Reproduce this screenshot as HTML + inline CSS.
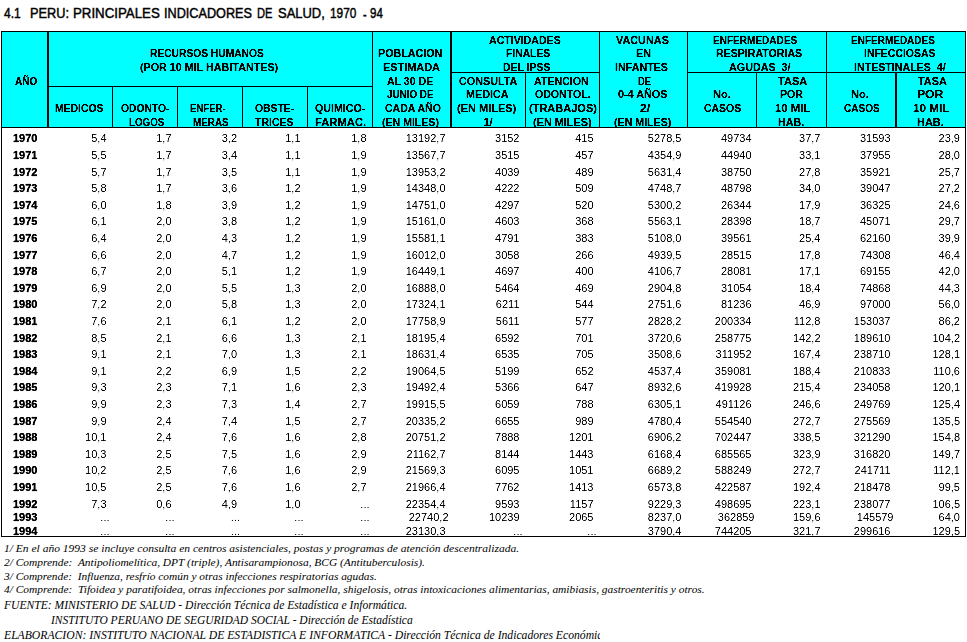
<!DOCTYPE html><html><head><meta charset="utf-8"><style>
html,body{margin:0;padding:0;background:#fff;width:967px;height:642px;overflow:hidden;position:relative}
div{position:absolute;white-space:pre}
.t{line-height:11px;font-family:"Liberation Sans",sans-serif;font-size:11px;color:#000;-webkit-text-stroke:0px #000}
.b{font-weight:bold;-webkit-text-stroke:0.3px #000}
.h{font-family:"Liberation Sans",sans-serif;font-weight:bold;font-size:11px;line-height:11px;transform-origin:0 0;-webkit-text-stroke:0.2px #000}
.r{text-align:right;width:80px}
.l{background:#000}
.f{font-family:"Liberation Serif",serif;font-style:italic;color:#000;transform-origin:0 0}
</style></head><body>
<div class="h" style="font-size:14px;line-height:14px;-webkit-text-stroke:0.45px #000;font-weight:normal;left:3.90px;top:6px;transform:scaleX(0.8579)">4.1</div>
<div class="h" style="font-size:14px;line-height:14px;-webkit-text-stroke:0.45px #000;font-weight:normal;left:30.09px;top:6px;transform:scaleX(0.9098)">PERU:</div>
<div class="h" style="font-size:14px;line-height:14px;-webkit-text-stroke:0.45px #000;font-weight:normal;left:73.05px;top:6px;transform:scaleX(0.9478)">PRINCIPALES</div>
<div class="h" style="font-size:14px;line-height:14px;-webkit-text-stroke:0.45px #000;font-weight:normal;left:164.10px;top:6px;transform:scaleX(0.9042)">INDICADORES</div>
<div class="h" style="font-size:14px;line-height:14px;-webkit-text-stroke:0.45px #000;font-weight:normal;left:257.21px;top:6px;transform:scaleX(0.7944)">DE</div>
<div class="h" style="font-size:14px;line-height:14px;-webkit-text-stroke:0.45px #000;font-weight:normal;left:278.38px;top:6px;transform:scaleX(0.9245)">SALUD,</div>
<div class="h" style="font-size:14px;line-height:14px;-webkit-text-stroke:0.45px #000;font-weight:normal;left:329.95px;top:6px;transform:scaleX(0.8467)">1970</div>
<div class="h" style="font-size:14px;line-height:14px;-webkit-text-stroke:0.45px #000;font-weight:normal;left:362.80px;top:8px;transform:scaleX(0.7750)">-</div>
<div class="h" style="font-size:14px;line-height:14px;-webkit-text-stroke:0.45px #000;font-weight:normal;left:369.80px;top:6px;transform:scaleX(0.8250)">94</div>
<div style="left:0;top:0;width:967px;height:128px;filter:contrast(4)">
<div style="left:1px;top:31px;width:965px;height:97px;background:#00ffff"></div>
<div class="h" style="left:15.00px;top:76px;transform:scaleX(0.9167)">AÑO</div>
<div class="h" style="left:150.07px;top:48px;transform:scaleX(0.9306)">RECURSOS HUMANOS</div>
<div class="h" style="left:140.02px;top:62px;transform:scaleX(0.9771)">(POR 10 MIL HABITANTES)</div>
<div class="h" style="left:55.15px;top:103px;transform:scaleX(0.9460)">MEDICOS</div>
<div class="h" style="left:121.25px;top:103px;transform:scaleX(0.9363)">ODONTO-</div>
<div class="h" style="left:128.71px;top:117px;transform:scaleX(0.8868)">LOGOS</div>
<div class="h" style="left:189.83px;top:103px;transform:scaleX(0.8725)">ENFER-</div>
<div class="h" style="left:193.00px;top:117px;transform:scaleX(0.8974)">MERAS</div>
<div class="h" style="left:254.90px;top:103px;transform:scaleX(0.9439)">OBSTE-</div>
<div class="h" style="left:254.90px;top:117px;transform:scaleX(0.9525)">TRICES</div>
<div class="h" style="left:314.80px;top:103px;transform:scaleX(0.9673)">QUIMICO-</div>
<div class="h" style="left:314.98px;top:117px;transform:scaleX(1.0208)">FARMAC.</div>
<div class="h" style="left:378.02px;top:48px;transform:scaleX(0.9750)">POBLACION</div>
<div class="h" style="left:383.01px;top:62px;transform:scaleX(0.9911)">ESTIMADA</div>
<div class="h" style="left:387.00px;top:76px;transform:scaleX(0.9625)">AL 30 DE</div>
<div class="h" style="left:386.60px;top:89px;transform:scaleX(0.8962)">JUNIO DE</div>
<div class="h" style="left:384.60px;top:103px;transform:scaleX(0.9552)">CADA AÑO</div>
<div class="h" style="left:382.34px;top:117px;transform:scaleX(0.9603)">(EN MILES)</div>
<div class="h" style="left:489.00px;top:35px;transform:scaleX(0.9622)">ACTIVIDADES</div>
<div class="h" style="left:506.06px;top:48px;transform:scaleX(0.9391)">FINALES</div>
<div class="h" style="left:503.05px;top:62px;transform:scaleX(0.9521)">DEL IPSS</div>
<div class="h" style="left:459.00px;top:76px;transform:scaleX(0.9797)">CONSULTA</div>
<div class="h" style="left:466.42px;top:89px;transform:scaleX(0.9810)">MEDICA</div>
<div class="h" style="left:457.00px;top:103px;transform:scaleX(1.0000)">(EN MILES)</div>
<div class="h" style="left:483.40px;top:117px;transform:scaleX(1.0000)">1/</div>
<div class="h" style="left:533.50px;top:76px;transform:scaleX(0.9661)">ATENCION</div>
<div class="h" style="left:534.80px;top:89px;transform:scaleX(0.9614)">ODONTOL.</div>
<div class="h" style="left:528.80px;top:103px;transform:scaleX(1.0015)">(TRABAJOS)</div>
<div class="h" style="left:532.51px;top:117px;transform:scaleX(0.9897)">(EN MILES)</div>
<div class="h" style="left:616.00px;top:35px;transform:scaleX(0.9868)">VACUNAS</div>
<div class="h" style="left:636.02px;top:48px;transform:scaleX(0.9786)">EN</div>
<div class="h" style="left:614.83px;top:62px;transform:scaleX(0.9736)">INFANTES</div>
<div class="h" style="left:637.95px;top:76px;transform:scaleX(0.8500)">DE</div>
<div class="h" style="left:618.30px;top:89px;transform:scaleX(0.9820)">0-4 AÑOS</div>
<div class="h" style="left:639.50px;top:103px;transform:scaleX(1.1111)">2/</div>
<div class="h" style="left:613.63px;top:117px;transform:scaleX(0.9672)">(EN MILES)</div>
<div class="h" style="left:712.69px;top:35px;transform:scaleX(0.9132)">ENFERMEDADES</div>
<div class="h" style="left:715.94px;top:48px;transform:scaleX(0.9625)">RESPIRATORIAS</div>
<div class="h" style="left:728.60px;top:62px;transform:scaleX(0.9778)">AGUDAS  3/</div>
<div class="h" style="left:712.99px;top:89px;transform:scaleX(1.0125)">No.</div>
<div class="h" style="left:704.00px;top:103px;transform:scaleX(0.9513)">CASOS</div>
<div class="h" style="left:778.00px;top:76px;transform:scaleX(1.0034)">TASA</div>
<div class="h" style="left:780.04px;top:89px;transform:scaleX(0.9609)">POR</div>
<div class="h" style="left:774.87px;top:103px;transform:scaleX(1.0333)">10 MIL</div>
<div class="h" style="left:778.02px;top:117px;transform:scaleX(0.9760)">HAB.</div>
<div class="h" style="left:851.49px;top:35px;transform:scaleX(0.9088)">ENFERMEDADES</div>
<div class="h" style="left:863.65px;top:48px;transform:scaleX(0.9514)">INFECCIOSAS</div>
<div class="h" style="left:854.33px;top:62px;transform:scaleX(0.9681)">INTESTINALES  4/</div>
<div class="h" style="left:851.39px;top:89px;transform:scaleX(1.0125)">No.</div>
<div class="h" style="left:844.00px;top:103px;transform:scaleX(0.9103)">CASOS</div>
<div class="h" style="left:917.70px;top:76px;transform:scaleX(0.9862)">TASA</div>
<div class="h" style="left:917.30px;top:89px;transform:scaleX(1.1043)">POR</div>
<div class="h" style="left:912.94px;top:103px;transform:scaleX(1.0606)">10 MIL</div>
<div class="h" style="left:916.70px;top:117px;transform:scaleX(0.9960)">HAB.</div>
</div>
<div style="left:0;top:128px;width:967px;height:408px;background:#fff;filter:contrast(1.6)">
<div class="t b" style="left:13px;top:5px">1970</div>
<div class="t r" style="left:26.5px;top:5px">5,4</div>
<div class="t r" style="left:91.5px;top:5px">1,7</div>
<div class="t r" style="left:157.0px;top:5px">3,2</div>
<div class="t r" style="left:220.5px;top:5px">1,1</div>
<div class="t r" style="left:286.5px;top:5px">1,8</div>
<div class="t r" style="left:365.5px;top:5px">13192,7</div>
<div class="t r" style="left:439.5px;top:5px">3152</div>
<div class="t r" style="left:513.5px;top:5px">415</div>
<div class="t r" style="left:601.5px;top:5px">5278,5</div>
<div class="t r" style="left:671.5px;top:5px">49734</div>
<div class="t r" style="left:740.5px;top:5px">37,7</div>
<div class="t r" style="left:810.5px;top:5px">31593</div>
<div class="t r" style="left:880.0px;top:5px">23,9</div>
<div class="t b" style="left:13px;top:22px">1971</div>
<div class="t r" style="left:26.5px;top:22px">5,5</div>
<div class="t r" style="left:91.5px;top:22px">1,7</div>
<div class="t r" style="left:157.0px;top:22px">3,4</div>
<div class="t r" style="left:220.5px;top:22px">1,1</div>
<div class="t r" style="left:286.5px;top:22px">1,9</div>
<div class="t r" style="left:365.5px;top:22px">13567,7</div>
<div class="t r" style="left:439.5px;top:22px">3515</div>
<div class="t r" style="left:513.5px;top:22px">457</div>
<div class="t r" style="left:601.5px;top:22px">4354,9</div>
<div class="t r" style="left:671.5px;top:22px">44940</div>
<div class="t r" style="left:740.5px;top:22px">33,1</div>
<div class="t r" style="left:810.5px;top:22px">37955</div>
<div class="t r" style="left:880.0px;top:22px">28,0</div>
<div class="t b" style="left:13px;top:39px">1972</div>
<div class="t r" style="left:26.5px;top:39px">5,7</div>
<div class="t r" style="left:91.5px;top:39px">1,7</div>
<div class="t r" style="left:157.0px;top:39px">3,5</div>
<div class="t r" style="left:220.5px;top:39px">1,1</div>
<div class="t r" style="left:286.5px;top:39px">1,9</div>
<div class="t r" style="left:365.5px;top:39px">13953,2</div>
<div class="t r" style="left:439.5px;top:39px">4039</div>
<div class="t r" style="left:513.5px;top:39px">489</div>
<div class="t r" style="left:601.5px;top:39px">5631,4</div>
<div class="t r" style="left:671.5px;top:39px">38750</div>
<div class="t r" style="left:740.5px;top:39px">27,8</div>
<div class="t r" style="left:810.5px;top:39px">35921</div>
<div class="t r" style="left:880.0px;top:39px">25,7</div>
<div class="t b" style="left:13px;top:55px">1973</div>
<div class="t r" style="left:26.5px;top:55px">5,8</div>
<div class="t r" style="left:91.5px;top:55px">1,7</div>
<div class="t r" style="left:157.0px;top:55px">3,6</div>
<div class="t r" style="left:220.5px;top:55px">1,2</div>
<div class="t r" style="left:286.5px;top:55px">1,9</div>
<div class="t r" style="left:365.5px;top:55px">14348,0</div>
<div class="t r" style="left:439.5px;top:55px">4222</div>
<div class="t r" style="left:513.5px;top:55px">509</div>
<div class="t r" style="left:601.5px;top:55px">4748,7</div>
<div class="t r" style="left:671.5px;top:55px">48798</div>
<div class="t r" style="left:740.5px;top:55px">34,0</div>
<div class="t r" style="left:810.5px;top:55px">39047</div>
<div class="t r" style="left:880.0px;top:55px">27,2</div>
<div class="t b" style="left:13px;top:72px">1974</div>
<div class="t r" style="left:26.5px;top:72px">6,0</div>
<div class="t r" style="left:91.5px;top:72px">1,8</div>
<div class="t r" style="left:157.0px;top:72px">3,9</div>
<div class="t r" style="left:220.5px;top:72px">1,2</div>
<div class="t r" style="left:286.5px;top:72px">1,9</div>
<div class="t r" style="left:365.5px;top:72px">14751,0</div>
<div class="t r" style="left:439.5px;top:72px">4297</div>
<div class="t r" style="left:513.5px;top:72px">520</div>
<div class="t r" style="left:601.5px;top:72px">5300,2</div>
<div class="t r" style="left:671.5px;top:72px">26344</div>
<div class="t r" style="left:740.5px;top:72px">17,9</div>
<div class="t r" style="left:810.5px;top:72px">36325</div>
<div class="t r" style="left:880.0px;top:72px">24,6</div>
<div class="t b" style="left:13px;top:88px">1975</div>
<div class="t r" style="left:26.5px;top:88px">6,1</div>
<div class="t r" style="left:91.5px;top:88px">2,0</div>
<div class="t r" style="left:157.0px;top:88px">3,8</div>
<div class="t r" style="left:220.5px;top:88px">1,2</div>
<div class="t r" style="left:286.5px;top:88px">1,9</div>
<div class="t r" style="left:365.5px;top:88px">15161,0</div>
<div class="t r" style="left:439.5px;top:88px">4603</div>
<div class="t r" style="left:513.5px;top:88px">368</div>
<div class="t r" style="left:601.5px;top:88px">5563,1</div>
<div class="t r" style="left:671.5px;top:88px">28398</div>
<div class="t r" style="left:740.5px;top:88px">18,7</div>
<div class="t r" style="left:810.5px;top:88px">45071</div>
<div class="t r" style="left:880.0px;top:88px">29,7</div>
<div class="t b" style="left:13px;top:105px">1976</div>
<div class="t r" style="left:26.5px;top:105px">6,4</div>
<div class="t r" style="left:91.5px;top:105px">2,0</div>
<div class="t r" style="left:157.0px;top:105px">4,3</div>
<div class="t r" style="left:220.5px;top:105px">1,2</div>
<div class="t r" style="left:286.5px;top:105px">1,9</div>
<div class="t r" style="left:365.5px;top:105px">15581,1</div>
<div class="t r" style="left:439.5px;top:105px">4791</div>
<div class="t r" style="left:513.5px;top:105px">383</div>
<div class="t r" style="left:601.5px;top:105px">5108,0</div>
<div class="t r" style="left:671.5px;top:105px">39561</div>
<div class="t r" style="left:740.5px;top:105px">25,4</div>
<div class="t r" style="left:810.5px;top:105px">62160</div>
<div class="t r" style="left:880.0px;top:105px">39,9</div>
<div class="t b" style="left:13px;top:122px">1977</div>
<div class="t r" style="left:26.5px;top:122px">6,6</div>
<div class="t r" style="left:91.5px;top:122px">2,0</div>
<div class="t r" style="left:157.0px;top:122px">4,7</div>
<div class="t r" style="left:220.5px;top:122px">1,2</div>
<div class="t r" style="left:286.5px;top:122px">1,9</div>
<div class="t r" style="left:365.5px;top:122px">16012,0</div>
<div class="t r" style="left:439.5px;top:122px">3058</div>
<div class="t r" style="left:513.5px;top:122px">266</div>
<div class="t r" style="left:601.5px;top:122px">4939,5</div>
<div class="t r" style="left:671.5px;top:122px">28515</div>
<div class="t r" style="left:740.5px;top:122px">17,8</div>
<div class="t r" style="left:810.5px;top:122px">74308</div>
<div class="t r" style="left:880.0px;top:122px">46,4</div>
<div class="t b" style="left:13px;top:138px">1978</div>
<div class="t r" style="left:26.5px;top:138px">6,7</div>
<div class="t r" style="left:91.5px;top:138px">2,0</div>
<div class="t r" style="left:157.0px;top:138px">5,1</div>
<div class="t r" style="left:220.5px;top:138px">1,2</div>
<div class="t r" style="left:286.5px;top:138px">1,9</div>
<div class="t r" style="left:365.5px;top:138px">16449,1</div>
<div class="t r" style="left:439.5px;top:138px">4697</div>
<div class="t r" style="left:513.5px;top:138px">400</div>
<div class="t r" style="left:601.5px;top:138px">4106,7</div>
<div class="t r" style="left:671.5px;top:138px">28081</div>
<div class="t r" style="left:740.5px;top:138px">17,1</div>
<div class="t r" style="left:810.5px;top:138px">69155</div>
<div class="t r" style="left:880.0px;top:138px">42,0</div>
<div class="t b" style="left:13px;top:155px">1979</div>
<div class="t r" style="left:26.5px;top:155px">6,9</div>
<div class="t r" style="left:91.5px;top:155px">2,0</div>
<div class="t r" style="left:157.0px;top:155px">5,5</div>
<div class="t r" style="left:220.5px;top:155px">1,3</div>
<div class="t r" style="left:286.5px;top:155px">2,0</div>
<div class="t r" style="left:365.5px;top:155px">16888,0</div>
<div class="t r" style="left:439.5px;top:155px">5464</div>
<div class="t r" style="left:513.5px;top:155px">469</div>
<div class="t r" style="left:601.5px;top:155px">2904,8</div>
<div class="t r" style="left:671.5px;top:155px">31054</div>
<div class="t r" style="left:740.5px;top:155px">18,4</div>
<div class="t r" style="left:810.5px;top:155px">74868</div>
<div class="t r" style="left:880.0px;top:155px">44,3</div>
<div class="t b" style="left:13px;top:171px">1980</div>
<div class="t r" style="left:26.5px;top:171px">7,2</div>
<div class="t r" style="left:91.5px;top:171px">2,0</div>
<div class="t r" style="left:157.0px;top:171px">5,8</div>
<div class="t r" style="left:220.5px;top:171px">1,3</div>
<div class="t r" style="left:286.5px;top:171px">2,0</div>
<div class="t r" style="left:365.5px;top:171px">17324,1</div>
<div class="t r" style="left:439.5px;top:171px">6211</div>
<div class="t r" style="left:513.5px;top:171px">544</div>
<div class="t r" style="left:601.5px;top:171px">2751,6</div>
<div class="t r" style="left:671.5px;top:171px">81236</div>
<div class="t r" style="left:740.5px;top:171px">46,9</div>
<div class="t r" style="left:810.5px;top:171px">97000</div>
<div class="t r" style="left:880.0px;top:171px">56,0</div>
<div class="t b" style="left:13px;top:188px">1981</div>
<div class="t r" style="left:26.5px;top:188px">7,6</div>
<div class="t r" style="left:91.5px;top:188px">2,1</div>
<div class="t r" style="left:157.0px;top:188px">6,1</div>
<div class="t r" style="left:220.5px;top:188px">1,2</div>
<div class="t r" style="left:286.5px;top:188px">2,0</div>
<div class="t r" style="left:365.5px;top:188px">17758,9</div>
<div class="t r" style="left:439.5px;top:188px">5611</div>
<div class="t r" style="left:513.5px;top:188px">577</div>
<div class="t r" style="left:601.5px;top:188px">2828,2</div>
<div class="t r" style="left:671.5px;top:188px">200334</div>
<div class="t r" style="left:740.5px;top:188px">112,8</div>
<div class="t r" style="left:810.5px;top:188px">153037</div>
<div class="t r" style="left:880.0px;top:188px">86,2</div>
<div class="t b" style="left:13px;top:205px">1982</div>
<div class="t r" style="left:26.5px;top:205px">8,5</div>
<div class="t r" style="left:91.5px;top:205px">2,1</div>
<div class="t r" style="left:157.0px;top:205px">6,6</div>
<div class="t r" style="left:220.5px;top:205px">1,3</div>
<div class="t r" style="left:286.5px;top:205px">2,1</div>
<div class="t r" style="left:365.5px;top:205px">18195,4</div>
<div class="t r" style="left:439.5px;top:205px">6592</div>
<div class="t r" style="left:513.5px;top:205px">701</div>
<div class="t r" style="left:601.5px;top:205px">3720,6</div>
<div class="t r" style="left:671.5px;top:205px">258775</div>
<div class="t r" style="left:740.5px;top:205px">142,2</div>
<div class="t r" style="left:810.5px;top:205px">189610</div>
<div class="t r" style="left:880.0px;top:205px">104,2</div>
<div class="t b" style="left:13px;top:221px">1983</div>
<div class="t r" style="left:26.5px;top:221px">9,1</div>
<div class="t r" style="left:91.5px;top:221px">2,1</div>
<div class="t r" style="left:157.0px;top:221px">7,0</div>
<div class="t r" style="left:220.5px;top:221px">1,3</div>
<div class="t r" style="left:286.5px;top:221px">2,1</div>
<div class="t r" style="left:365.5px;top:221px">18631,4</div>
<div class="t r" style="left:439.5px;top:221px">6535</div>
<div class="t r" style="left:513.5px;top:221px">705</div>
<div class="t r" style="left:601.5px;top:221px">3508,6</div>
<div class="t r" style="left:671.5px;top:221px">311952</div>
<div class="t r" style="left:740.5px;top:221px">167,4</div>
<div class="t r" style="left:810.5px;top:221px">238710</div>
<div class="t r" style="left:880.0px;top:221px">128,1</div>
<div class="t b" style="left:13px;top:238px">1984</div>
<div class="t r" style="left:26.5px;top:238px">9,1</div>
<div class="t r" style="left:91.5px;top:238px">2,2</div>
<div class="t r" style="left:157.0px;top:238px">6,9</div>
<div class="t r" style="left:220.5px;top:238px">1,5</div>
<div class="t r" style="left:286.5px;top:238px">2,2</div>
<div class="t r" style="left:365.5px;top:238px">19064,5</div>
<div class="t r" style="left:439.5px;top:238px">5199</div>
<div class="t r" style="left:513.5px;top:238px">652</div>
<div class="t r" style="left:601.5px;top:238px">4537,4</div>
<div class="t r" style="left:671.5px;top:238px">359081</div>
<div class="t r" style="left:740.5px;top:238px">188,4</div>
<div class="t r" style="left:810.5px;top:238px">210833</div>
<div class="t r" style="left:880.0px;top:238px">110,6</div>
<div class="t b" style="left:13px;top:254px">1985</div>
<div class="t r" style="left:26.5px;top:254px">9,3</div>
<div class="t r" style="left:91.5px;top:254px">2,3</div>
<div class="t r" style="left:157.0px;top:254px">7,1</div>
<div class="t r" style="left:220.5px;top:254px">1,6</div>
<div class="t r" style="left:286.5px;top:254px">2,3</div>
<div class="t r" style="left:365.5px;top:254px">19492,4</div>
<div class="t r" style="left:439.5px;top:254px">5366</div>
<div class="t r" style="left:513.5px;top:254px">647</div>
<div class="t r" style="left:601.5px;top:254px">8932,6</div>
<div class="t r" style="left:671.5px;top:254px">419928</div>
<div class="t r" style="left:740.5px;top:254px">215,4</div>
<div class="t r" style="left:810.5px;top:254px">234058</div>
<div class="t r" style="left:880.0px;top:254px">120,1</div>
<div class="t b" style="left:13px;top:271px">1986</div>
<div class="t r" style="left:26.5px;top:271px">9,9</div>
<div class="t r" style="left:91.5px;top:271px">2,3</div>
<div class="t r" style="left:157.0px;top:271px">7,3</div>
<div class="t r" style="left:220.5px;top:271px">1,4</div>
<div class="t r" style="left:286.5px;top:271px">2,7</div>
<div class="t r" style="left:365.5px;top:271px">19915,5</div>
<div class="t r" style="left:439.5px;top:271px">6059</div>
<div class="t r" style="left:513.5px;top:271px">788</div>
<div class="t r" style="left:601.5px;top:271px">6305,1</div>
<div class="t r" style="left:671.5px;top:271px">491126</div>
<div class="t r" style="left:740.5px;top:271px">246,6</div>
<div class="t r" style="left:810.5px;top:271px">249769</div>
<div class="t r" style="left:880.0px;top:271px">125,4</div>
<div class="t b" style="left:13px;top:288px">1987</div>
<div class="t r" style="left:26.5px;top:288px">9,9</div>
<div class="t r" style="left:91.5px;top:288px">2,4</div>
<div class="t r" style="left:157.0px;top:288px">7,4</div>
<div class="t r" style="left:220.5px;top:288px">1,5</div>
<div class="t r" style="left:286.5px;top:288px">2,7</div>
<div class="t r" style="left:365.5px;top:288px">20335,2</div>
<div class="t r" style="left:439.5px;top:288px">6655</div>
<div class="t r" style="left:513.5px;top:288px">989</div>
<div class="t r" style="left:601.5px;top:288px">4780,4</div>
<div class="t r" style="left:671.5px;top:288px">554540</div>
<div class="t r" style="left:740.5px;top:288px">272,7</div>
<div class="t r" style="left:810.5px;top:288px">275569</div>
<div class="t r" style="left:880.0px;top:288px">135,5</div>
<div class="t b" style="left:13px;top:304px">1988</div>
<div class="t r" style="left:26.5px;top:304px">10,1</div>
<div class="t r" style="left:91.5px;top:304px">2,4</div>
<div class="t r" style="left:157.0px;top:304px">7,6</div>
<div class="t r" style="left:220.5px;top:304px">1,6</div>
<div class="t r" style="left:286.5px;top:304px">2,8</div>
<div class="t r" style="left:365.5px;top:304px">20751,2</div>
<div class="t r" style="left:439.5px;top:304px">7888</div>
<div class="t r" style="left:513.5px;top:304px">1201</div>
<div class="t r" style="left:601.5px;top:304px">6906,2</div>
<div class="t r" style="left:671.5px;top:304px">702447</div>
<div class="t r" style="left:740.5px;top:304px">338,5</div>
<div class="t r" style="left:810.5px;top:304px">321290</div>
<div class="t r" style="left:880.0px;top:304px">154,8</div>
<div class="t b" style="left:13px;top:321px">1989</div>
<div class="t r" style="left:26.5px;top:321px">10,3</div>
<div class="t r" style="left:91.5px;top:321px">2,5</div>
<div class="t r" style="left:157.0px;top:321px">7,5</div>
<div class="t r" style="left:220.5px;top:321px">1,6</div>
<div class="t r" style="left:286.5px;top:321px">2,9</div>
<div class="t r" style="left:365.5px;top:321px">21162,7</div>
<div class="t r" style="left:439.5px;top:321px">8144</div>
<div class="t r" style="left:513.5px;top:321px">1443</div>
<div class="t r" style="left:601.5px;top:321px">6168,4</div>
<div class="t r" style="left:671.5px;top:321px">685565</div>
<div class="t r" style="left:740.5px;top:321px">323,9</div>
<div class="t r" style="left:810.5px;top:321px">316820</div>
<div class="t r" style="left:880.0px;top:321px">149,7</div>
<div class="t b" style="left:13px;top:337px">1990</div>
<div class="t r" style="left:26.5px;top:337px">10,2</div>
<div class="t r" style="left:91.5px;top:337px">2,5</div>
<div class="t r" style="left:157.0px;top:337px">7,6</div>
<div class="t r" style="left:220.5px;top:337px">1,6</div>
<div class="t r" style="left:286.5px;top:337px">2,9</div>
<div class="t r" style="left:365.5px;top:337px">21569,3</div>
<div class="t r" style="left:439.5px;top:337px">6095</div>
<div class="t r" style="left:513.5px;top:337px">1051</div>
<div class="t r" style="left:601.5px;top:337px">6689,2</div>
<div class="t r" style="left:671.5px;top:337px">588249</div>
<div class="t r" style="left:740.5px;top:337px">272,7</div>
<div class="t r" style="left:810.5px;top:337px">241711</div>
<div class="t r" style="left:880.0px;top:337px">112,1</div>
<div class="t b" style="left:13px;top:354px">1991</div>
<div class="t r" style="left:26.5px;top:354px">10,5</div>
<div class="t r" style="left:91.5px;top:354px">2,5</div>
<div class="t r" style="left:157.0px;top:354px">7,6</div>
<div class="t r" style="left:220.5px;top:354px">1,6</div>
<div class="t r" style="left:286.5px;top:354px">2,7</div>
<div class="t r" style="left:365.5px;top:354px">21966,4</div>
<div class="t r" style="left:439.5px;top:354px">7762</div>
<div class="t r" style="left:513.5px;top:354px">1413</div>
<div class="t r" style="left:601.5px;top:354px">6573,8</div>
<div class="t r" style="left:671.5px;top:354px">422587</div>
<div class="t r" style="left:740.5px;top:354px">192,4</div>
<div class="t r" style="left:810.5px;top:354px">218478</div>
<div class="t r" style="left:880.0px;top:354px">99,5</div>
<div class="t b" style="left:13px;top:371px">1992</div>
<div class="t r" style="left:26.5px;top:371px">7,3</div>
<div class="t r" style="left:91.5px;top:371px">0,6</div>
<div class="t r" style="left:157.0px;top:371px">4,9</div>
<div class="t r" style="left:220.5px;top:371px">1,0</div>
<div class="t r" style="left:289.5px;top:371px">...</div>
<div class="t r" style="left:365.5px;top:371px">22354,4</div>
<div class="t r" style="left:439.5px;top:371px">9593</div>
<div class="t r" style="left:513.5px;top:371px">1157</div>
<div class="t r" style="left:601.5px;top:371px">9229,3</div>
<div class="t r" style="left:671.5px;top:371px">498695</div>
<div class="t r" style="left:740.5px;top:371px">223,1</div>
<div class="t r" style="left:810.5px;top:371px">238077</div>
<div class="t r" style="left:880.0px;top:371px">106,5</div>
<div class="t b" style="left:13px;top:384px">1993</div>
<div class="t r" style="left:29.5px;top:384px">...</div>
<div class="t r" style="left:94.5px;top:384px">...</div>
<div class="t r" style="left:160.0px;top:384px">...</div>
<div class="t r" style="left:223.5px;top:384px">...</div>
<div class="t r" style="left:289.5px;top:384px">...</div>
<div class="t r" style="left:368.5px;top:384px">22740,2</div>
<div class="t r" style="left:439.5px;top:384px">10239</div>
<div class="t r" style="left:513.5px;top:384px">2065</div>
<div class="t r" style="left:601.5px;top:384px">8237,0</div>
<div class="t r" style="left:674.5px;top:384px">362859</div>
<div class="t r" style="left:740.5px;top:384px">159,6</div>
<div class="t r" style="left:813.5px;top:384px">145579</div>
<div class="t r" style="left:880.0px;top:384px">64,0</div>
<div class="t b" style="left:13px;top:398px">1994</div>
<div class="t r" style="left:29.5px;top:398px">...</div>
<div class="t r" style="left:94.5px;top:398px">...</div>
<div class="t r" style="left:160.0px;top:398px">...</div>
<div class="t r" style="left:223.5px;top:398px">...</div>
<div class="t r" style="left:289.5px;top:398px">...</div>
<div class="t r" style="left:365.5px;top:398px">23130,3</div>
<div class="t r" style="left:442.5px;top:398px">...</div>
<div class="t r" style="left:516.5px;top:398px">...</div>
<div class="t r" style="left:601.5px;top:398px">3790,4</div>
<div class="t r" style="left:671.5px;top:398px">744205</div>
<div class="t r" style="left:740.5px;top:398px">321,7</div>
<div class="t r" style="left:810.5px;top:398px">299616</div>
<div class="t r" style="left:880.0px;top:398px">129,5</div>
</div>
<div class="f" style="left:3.90px;top:544px;font-size:10.5px;line-height:10.5px;transform:scaleX(1.0962)">1/ En el año 1993 se incluye consulta en centros asistenciales, postas y programas de atención descentralizada.</div>
<div class="f" style="left:4.30px;top:558px;font-size:10.5px;line-height:10.5px;transform:scaleX(1.0873)">2/ Comprende:  Antipoliomelítica, DPT (triple), Antisarampionosa, BCG (Antituberculosis).</div>
<div class="f" style="left:4.30px;top:572px;font-size:10.5px;line-height:10.5px;transform:scaleX(1.0814)">3/ Comprende:  Influenza, resfrío común y otras infecciones respiratorias agudas.</div>
<div class="f" style="left:4.30px;top:585px;font-size:10.5px;line-height:10.5px;transform:scaleX(1.0865)">4/ Comprende:  Tifoidea y paratifoidea, otras infecciones por salmonella, shigelosis, otras intoxicaciones alimentarias, amibiasis, gastroenteritis y otros.</div>
<div class="f" style="left:3.54px;top:599px;font-size:12.0px;line-height:12.0px;transform:scaleX(0.9649)">FUENTE: MINISTERIO DE SALUD - Dirección Técnica de Estadística e Informática.</div>
<div class="f" style="left:51.04px;top:614px;font-size:12.0px;line-height:12.0px;transform:scaleX(0.9593)">INSTITUTO PERUANO DE SEGURIDAD SOCIAL - Dirección de Estadística</div>
<div class="f" style="left:3.53px;top:629px;font-size:12.0px;line-height:12.0px;transform:scaleX(0.9724)">ELABORACION: INSTITUTO NACIONAL DE ESTADISTICA E INFORMATICA - Dirección Técnica de Indicadores Económicos</div>
<div class="l" style="left:1px;top:31px;width:965px;height:1px"></div>
<div class="l" style="left:1px;top:127px;width:965px;height:1px"></div>
<div class="l" style="left:1px;top:536px;width:965px;height:1px"></div>
<div class="l" style="left:1px;top:31px;width:1px;height:506px"></div>
<div class="l" style="left:965px;top:31px;width:1px;height:506px"></div>
<div class="l" style="left:47px;top:31px;width:2px;height:97px"></div>
<div class="l" style="left:450px;top:31px;width:2px;height:97px"></div>
<div class="l" style="left:895px;top:72px;width:2px;height:56px"></div>
<div class="l" style="left:49px;top:86px;width:323px;height:1px"></div>
<div class="l" style="left:452px;top:72px;width:147px;height:1px"></div>
<div class="l" style="left:687px;top:72px;width:278px;height:1px"></div>
<div class="l" style="left:112px;top:86px;width:1px;height:42px"></div>
<div class="l" style="left:177px;top:86px;width:1px;height:42px"></div>
<div class="l" style="left:242px;top:86px;width:1px;height:42px"></div>
<div class="l" style="left:307px;top:86px;width:1px;height:42px"></div>
<div class="l" style="left:372px;top:31px;width:1px;height:97px"></div>
<div class="l" style="left:525px;top:72px;width:1px;height:56px"></div>
<div class="l" style="left:599px;top:31px;width:1px;height:97px"></div>
<div class="l" style="left:687px;top:31px;width:1px;height:97px"></div>
<div class="l" style="left:756px;top:72px;width:1px;height:56px"></div>
<div class="l" style="left:826px;top:31px;width:1px;height:97px"></div>
<div style="left:600px;top:625px;width:367px;height:17px;background:#fff"></div>
</body></html>
